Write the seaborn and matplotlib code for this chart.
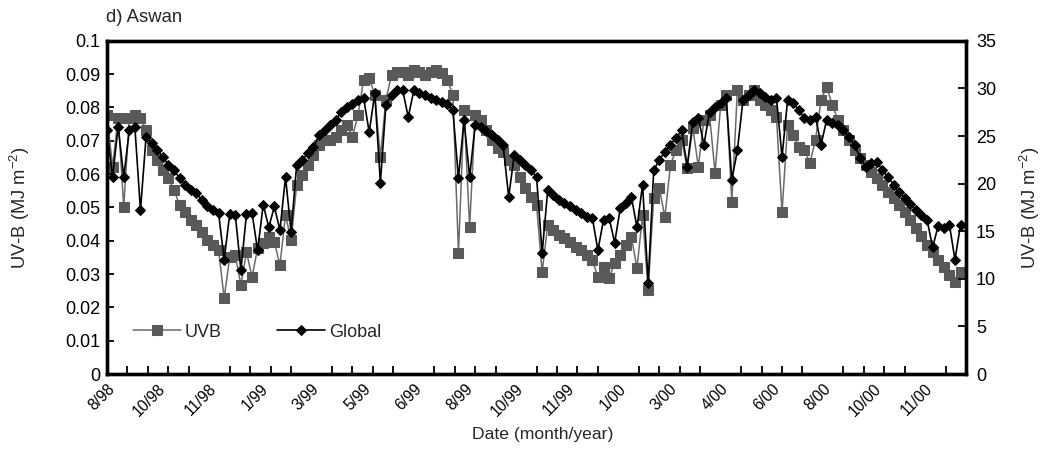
import matplotlib
matplotlib.use("Agg")
import matplotlib.pyplot as plt
import matplotlib.transforms as mtransforms
import numpy as np
import pandas as pd
import seaborn as sns

# Daily records, one value every 6th day from 8/98 onward
uvb = [
    0.0778, 0.0622, 0.0769, 0.0502, 0.0769, 0.0778, 0.0769, 0.0733, 0.0673, 0.0643,
    0.0613, 0.0589, 0.0553, 0.0508, 0.0486, 0.0462, 0.0447, 0.0426, 0.0402, 0.0387,
    0.0372, 0.0228, 0.0351, 0.0357, 0.0267, 0.0366, 0.0291, 0.0378, 0.0393, 0.0411,
    0.0396, 0.0327, 0.0477, 0.0402, 0.0568, 0.0598, 0.0628, 0.0658, 0.0688, 0.0703,
    0.0703, 0.0712, 0.0733, 0.0748, 0.0712, 0.0778, 0.0883, 0.0889, 0.0838, 0.0652,
    0.0823, 0.0898, 0.0907, 0.0907, 0.0898, 0.0913, 0.0907, 0.0898, 0.0907, 0.0913,
    0.0904, 0.0883, 0.0838, 0.0363, 0.0793, 0.0441, 0.0778, 0.0763, 0.0733, 0.0703,
    0.0679, 0.0667, 0.0643, 0.0628, 0.0592, 0.0559, 0.0532, 0.0508, 0.0306, 0.0447,
    0.0432, 0.0417, 0.0408, 0.0396, 0.0381, 0.0372, 0.0357, 0.0342, 0.0291, 0.0321,
    0.0288, 0.0333, 0.0357, 0.0387, 0.0411, 0.0318, 0.0477, 0.0252, 0.0529, 0.0559,
    0.0471, 0.0628, 0.0673, 0.0703, 0.0619, 0.0739, 0.0622, 0.0763, 0.0778, 0.0604,
    0.0808, 0.0838, 0.0517, 0.0853, 0.0823, 0.0838, 0.0853, 0.0823, 0.0808, 0.0793,
    0.0772, 0.0486, 0.0748, 0.0718, 0.0682, 0.0673, 0.0634, 0.0703, 0.0823, 0.0862,
    0.0808, 0.0763, 0.0733, 0.0703, 0.0673, 0.0649, 0.0628, 0.0607, 0.0589, 0.0568,
    0.0547, 0.0529, 0.0508, 0.0486, 0.0462, 0.0438, 0.0414, 0.0387, 0.0366, 0.0342,
    0.0321, 0.0297, 0.0276, 0.0306,
]

global_rad = [
    25.6, 20.7, 26.0, 20.7, 25.6, 25.9, 17.2, 24.9, 24.3, 23.5,
    22.8, 22.0, 21.4, 20.6, 19.9, 19.3, 19.0, 18.3, 17.6, 17.2,
    16.9, 12.0, 16.8, 16.7, 10.9, 16.8, 16.9, 13.0, 17.8, 15.4,
    17.6, 15.1, 20.7, 14.9, 22.0, 22.5, 23.2, 23.8, 25.1, 25.6,
    26.2, 26.7, 27.5, 28.1, 28.4, 28.8, 29.0, 25.4, 29.5, 20.1,
    28.3, 29.3, 29.8, 29.8, 27.0, 29.8, 29.5, 29.3, 29.0, 28.8,
    28.6, 28.4, 27.7, 20.6, 26.7, 20.7, 26.2, 26.0, 25.5, 25.1,
    24.6, 24.1, 18.6, 23.0, 22.5, 22.0, 21.4, 20.7, 12.7, 19.3,
    18.8, 18.3, 18.0, 17.6, 17.2, 16.9, 16.5, 16.4, 13.0, 16.2,
    16.4, 13.8, 17.4, 18.0, 18.6, 15.4, 19.9, 9.6, 21.4, 22.5,
    23.3, 24.1, 24.8, 25.6, 21.8, 26.5, 26.9, 24.1, 27.5, 28.1,
    28.5, 29.0, 20.4, 23.5, 28.8, 29.3, 29.8, 29.5, 29.1, 28.8,
    29.0, 22.8, 28.8, 28.5, 27.7, 26.9, 26.7, 27.0, 24.1, 26.7,
    26.4, 26.2, 25.6, 24.9, 24.1, 22.7, 21.8, 22.2, 22.3, 21.4,
    20.7, 19.9, 19.1, 18.5, 17.9, 17.2, 16.7, 16.2, 13.3, 15.6,
    15.3, 15.7, 12.0, 15.7,
]

date_labels = ["8/98", "10/98", "11/98", "1/99", "3/99", "5/99", "6/99", "8/99",
               "10/99", "11/99", "1/00", "3/00", "4/00", "6/00", "8/00", "10/00", "11/00"]
uvb_ticks = [0, 0.01, 0.02, 0.03, 0.04, 0.05, 0.06, 0.07, 0.08, 0.09, 0.1]
global_ticks = [0, 5, 10, 15, 20, 25, 30, 35]

sns.set_style("ticks")
plt.rcParams["font.family"] = ["Liberation Sans", "DejaVu Sans"]
plt.rcParams["mathtext.fontset"] = "custom"
plt.rcParams["mathtext.rm"] = "Liberation Sans"
plt.rcParams["mathtext.it"] = "Liberation Sans"

step = 6            # days between records
label_every = 55    # days between date labels
minor_every = 22    # days between minor tick marks
span = 924          # days covered by the axis

df = pd.DataFrame({
    "day": np.arange(len(uvb)) * step,
    "UVB": uvb,
    "Global": global_rad,
})

fig = plt.figure(figsize=(10.49, 4.49), dpi=100)
ax = fig.add_axes([0.102, 0.167, 0.819, 0.742])
ax2 = ax.twinx()

grey = "#595959"
sns.lineplot(data=df, x="day", y="UVB", ax=ax, color="#6a6a6a", linewidth=1.1,
             marker="s", markersize=7.0, markerfacecolor=grey, markeredgecolor=grey,
             legend=False)
sns.lineplot(data=df, x="day", y="Global", ax=ax2, color="black", linewidth=1.2,
             marker="D", markersize=5.4, markerfacecolor="black", markeredgecolor="black",
             legend=False)

ax.set_xlim(0, span)
ax.set_ylim(0, 0.1)
ax2.set_ylim(0, 35)

fs_tick = 13
fs_lab = 13.2
ax.set_yticks(uvb_ticks)
ax.set_yticklabels([f"{v:g}" for v in uvb_ticks], fontsize=fs_tick)
ax2.set_yticks(global_ticks)
ax2.set_yticklabels([str(v) for v in global_ticks], fontsize=fs_tick)

ax.set_xticks(np.arange(len(date_labels)) * label_every)
ax.set_xticklabels(date_labels, fontsize=11.2, rotation=45, ha="right",
                   va="top", rotation_mode="anchor")
ax.set_xticks(np.arange(minor_every, span, minor_every), minor=True)
for i, lab in enumerate(ax.get_xticklabels()):
    # first label is nudged right so it clears the y-axis corner
    dx = (8 if i == 0 else -5) / 100
    shift = mtransforms.ScaledTranslation(dx, 0, fig.dpi_scale_trans)
    lab.set_transform(lab.get_transform() + shift)

ax.tick_params(axis="x", which="major", length=0, pad=5, colors="black")
ax.tick_params(axis="x", which="minor", direction="in", length=6, width=1.3, color="black")
ax.tick_params(axis="y", direction="in", length=5, width=1.3, pad=5, colors="black")
ax2.tick_params(axis="y", direction="in", length=6, width=1.3, pad=7, colors="black")

for a in (ax, ax2):
    for sp in a.spines.values():
        sp.set_linewidth(2.4)
        sp.set_color("black")

ax.set_xlabel("")
ax.set_ylabel("UV-B (MJ m$^{-2}$)", fontsize=fs_lab)
ax.yaxis.set_label_coords(-0.087, 0.5)
ax2.set_ylabel("UV-B (MJ m$^{-2}$)", fontsize=fs_lab)
ax2.yaxis.set_label_coords(1.06, 0.5)

fig.text(543 / 1049, 1 - 435 / 449, "Date (month/year)", ha="center", va="center", fontsize=12.6)
fig.text(106 / 1049, 1 - 17 / 449, "d) Aswan", ha="left", va="center", fontsize=13.3)

handles = [ax.get_lines()[0], ax2.get_lines()[0]]
ax2.legend(handles, ["UVB", "Global"], loc="center left", bbox_to_anchor=(0.03, 0.126),
           ncol=2, frameon=False, fontsize=13, handlelength=2.65, handletextpad=0.2,
           columnspacing=3.1, borderpad=0, borderaxespad=0, numpoints=1)

fig.savefig("out.png", dpi=100)
